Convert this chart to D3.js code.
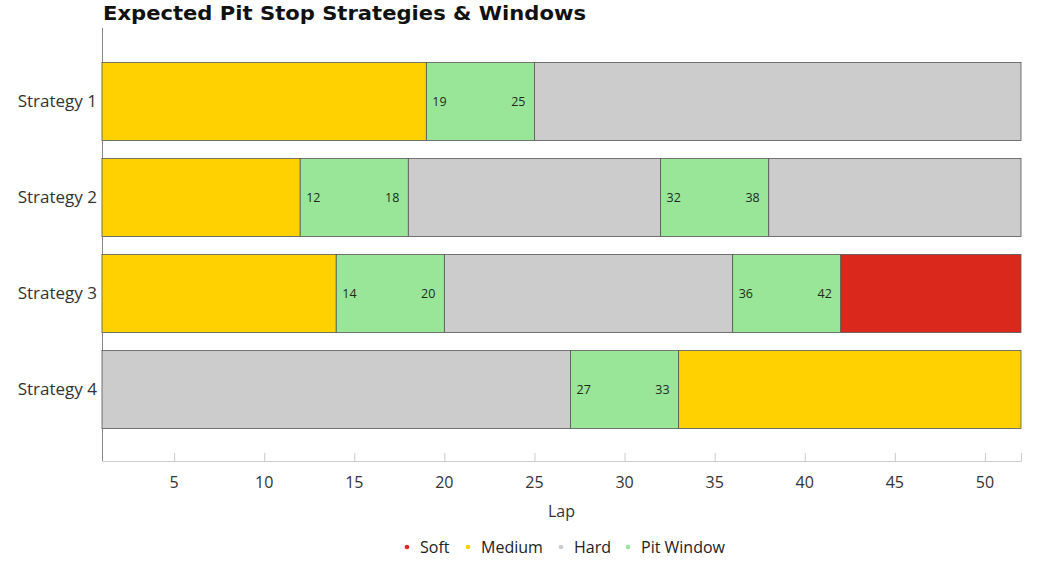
<!DOCTYPE html>
<html><head><meta charset="utf-8">
<script src="https://cdn.jsdelivr.net/npm/d3@7"></script>
<style>body{margin:0;background:#fff}svg{display:block}</style>
</head><body>
<svg id="c" width="1043" height="572"></svg>
<script>
const strategies = ["Strategy 1","Strategy 2","Strategy 3","Strategy 4"];
const segStrategy = ["Strategy 1","Strategy 1","Strategy 1",
  "Strategy 2","Strategy 2","Strategy 2","Strategy 2","Strategy 2",
  "Strategy 3","Strategy 3","Strategy 3","Strategy 3","Strategy 3",
  "Strategy 4","Strategy 4","Strategy 4"];
const segStart = [1,19,25, 1,12,18,32,38, 1,14,20,36,42, 1,27,33];
const segEnd   = [19,25,52, 12,18,32,38,52, 14,20,36,42,52, 27,33,52];
const segType  = ["Medium","Pit Window","Hard", "Medium","Pit Window","Hard","Pit Window","Hard",
  "Medium","Pit Window","Hard","Pit Window","Soft", "Hard","Pit Window","Medium"];
const legendNames = ["Soft","Medium","Hard","Pit Window"];
const legendColors = ["#DA291C","#FFD100","#CCCCCC","#99E699"];
const xTicks = [5,10,15,20,25,30,35,40,45,50];
const lapDomain = [1,52];

const svg = d3.select("#c");
const font = "'Open Sans', 'Noto Sans', sans-serif";
const m = {left:102, right:1021, top:28, bottom:461};
const x = d3.scaleLinear().domain(lapDomain).range([m.left, m.right]);
const y = d3.scaleBand().domain(strategies).range([m.top+1, m.bottom+1]).paddingInner(0.1875).paddingOuter(0.349);
const color = d3.scaleOrdinal().domain(legendNames).range(legendColors);

const segs = segStart.map((s,i)=>({s, e:segEnd[i], t:segType[i], k:segStrategy[i]}));

svg.append("text").attr("x",103).attr("y",20).attr("font-family","'DejaVu Sans', sans-serif")
  .attr("font-weight","bold").attr("font-size",20).attr("fill","#111")
  .attr("textLength",483).attr("lengthAdjust","spacingAndGlyphs")
  .text("Expected Pit Stop Strategies & Windows");

// x axis
const xa = svg.append("g").attr("transform",`translate(0,${m.bottom})`)
  .call(d3.axisTop(x).tickValues(xTicks).tickSize(8).tickFormat(""));
xa.select(".domain").attr("stroke","#ccc");
xa.selectAll(".tick line").attr("stroke","#ccc");
svg.append("g").selectAll("text").data(xTicks).join("text")
  .attr("x",d=>x(d)).attr("y",488).attr("text-anchor","middle")
  .attr("font-family",font).attr("font-size",16).attr("fill","#333").text(d=>d);

// y axis
const ya = svg.append("g").attr("transform",`translate(${m.left},0)`)
  .call(d3.axisLeft(y).tickSize(0).tickPadding(5));
ya.select(".domain").attr("stroke","#888").attr("d",`M0.5,${m.top}V${m.bottom}`);
ya.selectAll(".tick text").attr("font-family",font).attr("font-size",17).attr("fill","#333");

// bars
svg.append("g").selectAll("rect").data(segs).join("rect")
  .attr("x",d=>x(d.s)).attr("width",d=>x(d.e)-x(d.s))
  .attr("y",d=>y(d.k)).attr("height",y.bandwidth())
  .attr("fill",d=>color(d.t)).attr("stroke","#555").attr("stroke-width",0.8);

const pits = segs.filter(d=>d.t==="Pit Window");
const lg = svg.append("g");
lg.selectAll("text.s").data(pits).join("text").attr("class","s")
  .attr("x",d=>x(d.s)+6).attr("y",d=>y(d.k)+y.bandwidth()/2+4.5)
  .attr("font-family",font).attr("font-size",12.5).attr("fill","#1d2b1d").text(d=>d.s);
lg.selectAll("text.e").data(pits).join("text").attr("class","e")
  .attr("x",d=>x(d.e)-9).attr("y",d=>y(d.k)+y.bandwidth()/2+4.5).attr("text-anchor","end")
  .attr("font-family",font).attr("font-size",12.5).attr("fill","#1d2b1d").text(d=>d.e);

svg.append("text").attr("x",(m.left+m.right)/2).attr("y",517).attr("text-anchor","middle")
  .attr("font-family",font).attr("font-size",16).attr("fill","#333").text("Lap");

// legend
const legX = [407,468,561,628];
const leg = svg.append("g").selectAll("g").data(legendNames).join("g")
  .attr("transform",(d,i)=>`translate(${legX[i]},547)`);
leg.append("circle").attr("r",2.3).attr("fill",d=>color(d));
leg.append("text").attr("x",13).attr("y",6).attr("font-family",font).attr("font-size",16)
  .attr("fill","#222").text(d=>d);
</script>
</body></html>
